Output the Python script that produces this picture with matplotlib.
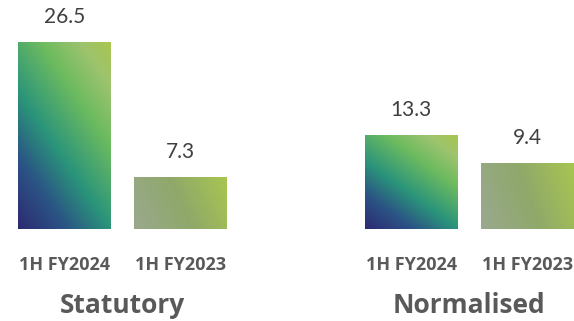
import numpy as np
import matplotlib
matplotlib.use("Agg")
import matplotlib.pyplot as plt
from matplotlib.colors import LinearSegmentedColormap

# Data
groups = ["Statutory", "Normalised"]
periods = ["1H FY2024", "1H FY2023"]
statutory = [26.5, 7.3]
normalised = [13.3, 9.4]
values = [statutory, normalised]

plt.rcParams["font.family"] = ["Lato", "DejaVu Sans"]
bold_family = ["Open Sans", "DejaVu Sans"]

current_cmap = LinearSegmentedColormap.from_list(
    "current",
    [(0.0, "#2c2a72"), (0.22, "#2b5485"), (0.42, "#2a947a"),
     (0.68, "#6dbb5f"), (0.86, "#9dc36e"), (1.0, "#a9c64f")])
prior_cmap = LinearSegmentedColormap.from_list(
    "prior",
    [(0.0, "#9aa98f"), (0.5, "#8fa86a"), (1.0, "#a8c650")])

fig = plt.figure(figsize=(5.74, 3.21), dpi=100)
ax = fig.add_axes([0, 92 / 321, 1, 229 / 321])
ax.set_xlim(-0.555, 4.383)
ax.set_ylim(0, 32.44)
ax.axis("off")

group_gap = 2.983
bar_w = 0.8

# gradient grids in the bar's own unit square
n = 200
u, v = np.meshgrid(np.linspace(0, 1, n), np.linspace(0, 1, n))
t_current = np.clip(0.42 * u + 0.58 * v, 0, 1)
t_prior = np.clip(0.8 * u + 0.2 * v, 0, 1)

for gi, (gname, vals) in enumerate(zip(groups, values)):
    xs = [gi * group_gap + bi for bi in range(len(vals))]
    bars = ax.bar(xs, vals, width=bar_w, color="none", edgecolor="none")
    for bi, (patch, val) in enumerate(zip(bars.patches, vals)):
        x0, y0 = patch.get_x(), patch.get_y()
        w, h = patch.get_width(), patch.get_height()
        cmap, tt = (current_cmap, t_current) if bi == 0 else (prior_cmap, t_prior)
        im = ax.imshow(tt, cmap=cmap, vmin=0, vmax=1, origin="lower",
                       extent=[x0, x0 + w, y0, y0 + h], aspect="auto",
                       interpolation="bilinear", zorder=2)
        im.set_clip_path(patch)
        ax.annotate(f"{val:.1f}", xy=(x0 + w / 2, val), xytext=(0, 18),
                    textcoords="offset points", ha="center", va="center",
                    fontsize=15, color="#404040")
        ax.annotate(periods[bi], xy=(x0 + w / 2, 0), xytext=(0, -26),
                    textcoords="offset points", ha="center", va="center",
                    fontsize=13, fontweight="bold", family=bold_family,
                    color="#595959")
    ax.annotate(gname, xy=(np.mean(xs), 0), xytext=(0, -55),
                textcoords="offset points", ha="center", va="center",
                fontsize=19, fontweight="bold", family=bold_family,
                color="#595959")

fig.savefig("out.png", dpi=100)
